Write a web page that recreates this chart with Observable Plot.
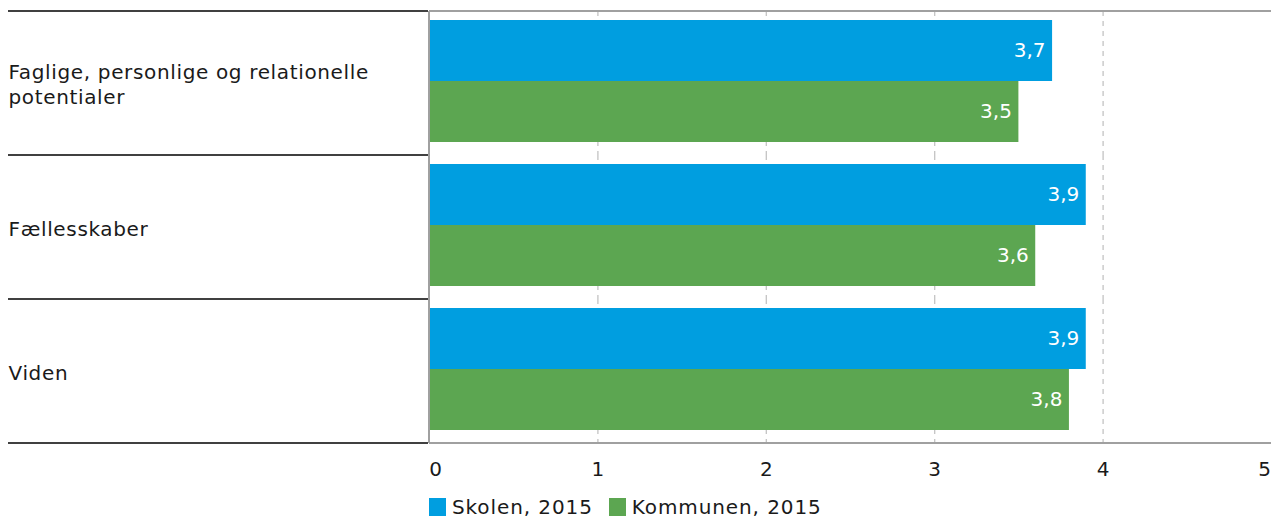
<!DOCTYPE html>
<html><head><meta charset="utf-8">
<script src="https://cdn.jsdelivr.net/npm/d3@7"></script>
<script src="https://cdn.jsdelivr.net/npm/@observablehq/plot@0.6"></script>
<style>
body{margin:0;background:#fff;font-family:"DejaVu Sans",Verdana,sans-serif;color:#1a1a1a;}
#legend{display:flex;align-items:center;padding-left:429px;padding-top:8px;box-sizing:border-box;height:36px;font-size:20px;letter-spacing:0.9px;}
.item{display:flex;align-items:center;margin-right:16px;}
.sw{width:17px;height:18px;margin-right:6px;}
.catlabel text, text.catlabel{letter-spacing:0.65px;}
</style></head><body><div id="chart"></div><div id="legend"></div><script>
(function () {
const categories = ["Faglige, personlige og relationelle potentialer", "Fællesskaber", "Viden"];
const categoryLabels = ["Faglige, personlige og relationelle\npotentialer", "Fællesskaber", "Viden"];
const seriesNames = ["Skolen, 2015", "Kommunen, 2015"];
const seriesColors = ["#009ee0", "#5ca651"];
const skolen = [3.7, 3.9, 3.9];
const kommunen = [3.5, 3.6, 3.8];
const xTicks = [0, 1, 2, 3, 4, 5];
const gridTicks = [1, 2, 3, 4];

const data = categories.flatMap((c, i) => [
  {category: c, series: seriesNames[0], value: skolen[i]},
  {category: c, series: seriesNames[1], value: kommunen[i]}
]);
const labelData = categories.map((c, i) => ({category: c, label: categoryLabels[i]}));
const fmt = v => v.toFixed(1).replace(".", ",");

const axisOpts = {tickSize: 0, tickPadding: 18, fontSize: 20, label: null, fill: "#1a1a1a", tickFormat: d => String(d)};

const plot = Plot.plot({
  width: 1271, height: 485,
  marginTop: 10, marginBottom: 41, marginLeft: 429, marginRight: 0,
  style: {fontFamily: '"DejaVu Sans", Verdana, sans-serif', fontSize: "20px", color: "#1a1a1a", background: "#fff", overflow: "visible"},
  x: {domain: [0, 5], axis: null},
  y: {domain: seriesNames, paddingInner: 0, paddingOuter: 0.17, align: 0.43, axis: null},
  fy: {domain: categories, padding: 0, axis: null},
  color: {domain: seriesNames, range: seriesColors},
  marks: [
    Plot.ruleX(gridTicks, {stroke: "#c4c4c4", strokeDasharray: "5,5", strokeWidth: 1.3}),
    Plot.barX(data, {fy: "category", y: "series", x: "value", fill: "series"}),
    Plot.text(data, {fy: "category", y: "series", x: "value", text: d => fmt(d.value), textAnchor: "end", dx: -7, fill: "white", fontSize: 20}),
    Plot.text(labelData, {fy: "category", text: "label", frameAnchor: "left", textAnchor: "start", dx: -421, fontSize: 20, lineHeight: 1.25, fill: "#1a1a1a", className: "catlabel"}),
    Plot.axisX(xTicks.slice(1, -1), axisOpts),
    Plot.axisX(xTicks.slice(0, 1), {...axisOpts, dx: 6}),
    Plot.axisX(xTicks.slice(-1), {...axisOpts, dx: -7})
  ]
});
document.getElementById("chart").appendChild(plot);

// frame and separator lines from the library's scales
const svg = d3.select(plot.tagName.toLowerCase() === "svg" ? plot : plot.querySelector("svg"));
const fy = plot.scale("fy");
const x = plot.scale("x");
const x0 = x.apply(0), x5 = x.apply(5);
const bounds = categories.map(c => fy.apply(c));
bounds.push(fy.apply(categories[categories.length - 1]) + fy.bandwidth);
const yTop = bounds[0], yBottom = bounds[bounds.length - 1];
const g = svg.append("g");
g.append("line").attr("x1", x0).attr("x2", x5).attr("y1", yTop).attr("y2", yTop).attr("stroke", "#a0a0a0").attr("stroke-width", 2);
g.append("line").attr("x1", x0).attr("x2", x5).attr("y1", yBottom).attr("y2", yBottom).attr("stroke", "#a0a0a0").attr("stroke-width", 2);
g.append("line").attr("x1", x0).attr("x2", x0).attr("y1", yTop).attr("y2", yBottom).attr("stroke", "#a0a0a0").attr("stroke-width", 2);
bounds.forEach(b => g.append("line").attr("x1", 8).attr("x2", x0 - 1).attr("y1", b).attr("y2", b).attr("stroke", "#404040").attr("stroke-width", 2));

const legend = d3.select("#legend");
seriesNames.forEach((s, i) => {
  const it = legend.append("div").attr("class", "item");
  it.append("div").attr("class", "sw").style("background", seriesColors[i]);
  it.append("span").text(s);
});
})();
</script></body></html>
